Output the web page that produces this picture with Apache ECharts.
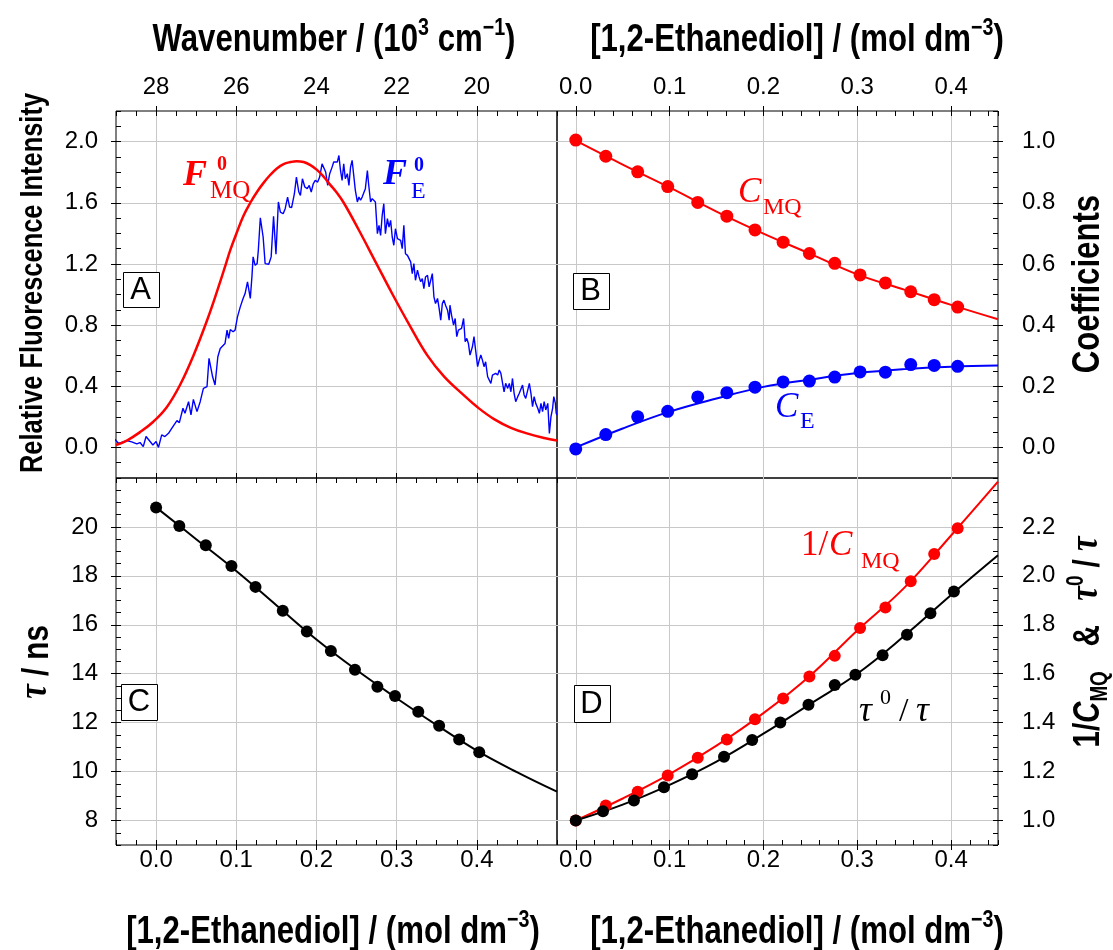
<!DOCTYPE html>
<html><head><meta charset="utf-8">
<script src="https://cdn.jsdelivr.net/npm/echarts@6/dist/echarts.min.js"></script>
<style>html,body{margin:0;padding:0;background:#fff}#c{width:1113px;height:950px}</style>
</head><body><div id="c"></div>
<script>
// ---------- Panel A: spectra vs wavenumber (10^3 cm^-1) ----------
const specWn = [29.03,28.94,28.86,28.73,28.61,28.48,28.40,28.32,28.25,28.17,28.08,28.00,27.94,27.86,27.78,27.69,27.61,27.57,27.48,27.42,27.33,27.28,27.19,27.13,27.07,26.98,26.90,26.82,26.73,26.68,26.59,26.53,26.46,26.40,
26.28,26.23,26.19,26.15,26.08,26.03,25.97,25.90,25.83,25.78,25.72,25.65,25.61,25.58,25.53,25.48,25.45,25.40,25.33,25.28,25.19,25.13,25.07,25.01,24.95,24.90,24.83,24.78,24.72,24.67,24.62,24.55,24.50,24.44,24.40,24.35,24.29,24.23,24.18,24.13,24.08,24.03,23.97,23.92,23.86,23.82,23.77,23.72,23.67,23.61,23.57,
23.53,23.48,23.44,23.40,23.36,23.32,23.28,23.23,23.19,23.15,23.11,23.07,23.03,22.98,22.94,22.90,22.86,22.82,22.78,22.73,22.70,22.65,22.61,22.57,22.53,22.48,22.44,22.40,22.36,22.32,22.28,22.23,22.19,22.15,22.11,22.07,22.03,21.98,21.94,21.90,21.86,21.82,21.78,21.73,21.69,21.65,21.61,21.57,21.53,21.48,21.44,21.40,21.36,21.32,21.28,21.23,21.19,21.15,21.11,21.07,21.03,20.98,20.94,20.90,20.86,20.82,
20.78,20.73,20.69,20.67,20.63,20.58,20.54,20.50,20.46,20.42,20.38,20.33,20.29,20.25,20.21,20.17,20.11,20.07,20.03,19.98,19.94,19.90,19.86,19.82,19.78,19.73,19.69,19.65,19.61,19.57,19.53,19.48,19.44,19.40,19.36,19.32,19.28,19.23,19.19,19.15,19.11,19.07,19.03,18.98,18.94,18.90,18.86,18.82,18.78,18.73,18.69,18.65,18.61,18.57,18.53,18.48,18.44,18.40,18.36,18.32,18.28,18.23,18.19,18.15,18.11,18.08,18.04,18.02,18.00];
const specE = [0.053,0.027,0.032,0.045,0.036,0.023,0.032,0.005,0.071,0.045,0.016,0.038,0.0,0.082,0.071,0.092,0.125,0.114,0.175,0.162,0.256,0.223,0.299,0.212,0.314,0.234,0.299,0.386,0.397,0.582,0.462,0.408,0.593,0.647,
0.68,0.767,0.713,0.771,0.756,0.767,0.854,0.919,0.974,1.006,1.082,0.974,1.115,1.246,1.191,1.202,1.289,1.502,1.376,1.202,1.198,1.246,1.511,1.263,1.605,1.539,1.528,1.561,1.637,1.572,1.568,1.659,1.768,1.67,1.648,1.757,1.703,1.692,1.713,1.67,1.724,1.746,1.735,1.768,1.855,1.855,1.801,1.713,1.79,1.833,1.866,
1.855,1.866,1.909,1.811,1.746,1.855,1.757,1.79,1.713,1.833,1.877,1.779,1.681,1.605,1.637,1.616,1.637,1.627,1.692,1.811,1.724,1.605,1.627,1.637,1.605,1.398,1.452,1.387,1.518,1.594,1.398,1.496,1.441,1.485,1.376,1.322,1.43,1.365,1.376,1.354,1.3,1.452,1.267,1.256,1.267,1.213,1.137,1.202,1.093,1.159,1.115,1.083,1.104,1.039,1.115,1.126,1.05,1.093,1.137,0.985,0.941,0.974,0.909,0.832,0.941,0.963,
0.93,0.897,0.832,0.93,0.865,0.8,0.843,0.724,0.767,0.756,0.778,0.843,0.691,0.713,0.68,0.604,0.658,0.724,0.636,0.528,0.571,0.604,0.571,0.528,0.56,0.462,0.451,0.419,0.473,0.462,0.484,0.473,0.506,0.484,0.488,0.364,0.419,0.386,0.419,0.364,0.451,0.354,0.299,0.332,0.354,0.364,0.408,0.343,0.321,0.375,0.419,0.354,0.267,0.332,0.288,0.256,0.223,0.288,0.234,0.299,0.245,0.288,0.092,0.201,0.256,0.332,0.288,0.223,0.212];
const fmqWn = [29.0,28.73,28.4,28.07,27.73,27.4,27.07,26.73,26.48,26.27,26.15,25.98,25.82,25.65,25.48,25.32,25.15,24.98,24.82,24.65,24.5,24.32,24.15,23.98,23.82,23.65,23.52,23.32,22.94,22.53,22.11,21.69,21.23,20.82,20.32,19.98,19.57,19.15,18.73,18.32,18.0];
const fmqI = [0.016,0.045,0.100,0.168,0.265,0.41,0.60,0.83,1.02,1.19,1.29,1.41,1.515,1.60,1.672,1.730,1.783,1.826,1.853,1.866,1.872,1.866,1.846,1.813,1.770,1.715,1.675,1.6,1.42,1.215,1.005,0.805,0.60,0.465,0.34,0.262,0.185,0.128,0.090,0.062,0.045];

// ---------- Panel B: coefficients vs [1,2-ethanediol] ----------
const concB = [0,0.032,0.066,0.098,0.130,0.161,0.191,0.221,0.249,0.276,0.303,0.330,0.357,0.382,0.407];
const cMQ = [1.005,0.952,0.901,0.853,0.801,0.756,0.711,0.671,0.634,0.602,0.564,0.538,0.509,0.483,0.459];
const cE = [-0.005,0.042,0.100,0.118,0.165,0.179,0.197,0.214,0.217,0.230,0.247,0.246,0.271,0.268,0.265];
const fitConc = [0,0.05,0.1,0.15,0.2,0.25,0.3,0.35,0.4,0.45];
const cMQFit = [1.003,0.925,0.850,0.771,0.699,0.633,0.566,0.516,0.466,0.419];
const cEFit = [0,0.062,0.117,0.160,0.198,0.222,0.243,0.256,0.264,0.268];

// ---------- Panel C: lifetime ----------
const concC = [0,0.029,0.062,0.094,0.124,0.158,0.188,0.218,0.248,0.276,0.298,0.327,0.353,0.378,0.403];
const tau = [20.79,20.04,19.25,18.40,17.55,16.57,15.73,14.93,14.16,13.47,13.09,12.45,11.87,11.31,10.79];
const tauFitConc = [0,0.05,0.1,0.15,0.2,0.25,0.3,0.35,0.4,0.45,0.5];
const tauFit = [20.8,19.5,18.2,16.8,15.4,14.15,13.0,11.9,10.86,9.98,9.18];

// ---------- Panel D: 1/C_MQ and tau0/tau ----------
const invCMQ = [1.0,1.061,1.118,1.184,1.257,1.331,1.414,1.499,1.589,1.673,1.787,1.871,1.978,2.089,2.195];
const tauRatio = [1.0,1.038,1.082,1.136,1.189,1.261,1.329,1.401,1.473,1.554,1.596,1.676,1.759,1.847,1.936];
const invCMQFit = [1.0,1.09,1.19,1.306,1.439,1.593,1.777,1.951,2.165,2.385];
const tauRatioFit = [1.0,1.065,1.146,1.241,1.355,1.477,1.6,1.754,1.922,2.084];

// ---------- tick labels ----------
const wnTicks = [28,26,24,22,20];
const concTicks = [0,0.1,0.2,0.3,0.4];
const fluorTicks = [0,0.4,0.8,1.2,1.6,2.0];
const coefTicks = [0,0.2,0.4,0.6,0.8,1.0];
const tauTicks = [8,10,12,14,16,18,20];
const ratioTicks = [1.0,1.2,1.4,1.6,1.8,2.0,2.2];

const pairs = (xs, ys) => xs.map((x, i) => [x, ys[i]]);
const f1 = v => v.toFixed(1);
const f0 = v => String(Math.round(v));
const SANS = 'Liberation Sans';
const NARROW = '"Liberation Sans Narrow", "Arial Narrow", "Liberation Sans"';
const SERIF = 'Liberation Serif';
const GRID_C = '#c8c8c8';
const SQ = 0.82; // horizontal condensing of bold titles

function major(grid, pos, min, max, ticks, fmt, margin, extra) {
  return Object.assign({
    type: 'value', gridIndex: grid, position: pos, min, max,
    axisLine: {show: false, onZero: false},
    axisTick: {show: true, inside: false, length: 5, customValues: ticks, lineStyle: {color: '#000', width: 1}},
    axisLabel: {show: fmt != null, customValues: ticks, formatter: fmt || (v => ''), color: '#000', fontFamily: NARROW, fontSize: 24, margin},
    splitLine: {show: true, lineStyle: {color: GRID_C, width: 1}},
    minorTick: {show: false}
  }, extra || {});
}
function minor(grid, pos, min, max, step, extra) {
  return Object.assign({
    type: 'value', gridIndex: grid, position: pos, min, max, interval: step,
    axisLine: {show: false, onZero: false},
    axisTick: {show: true, inside: true, length: 5, lineStyle: {color: '#000', width: 1}},
    axisLabel: {show: false}, splitLine: {show: false}
  }, extra || {});
}

const xAxis = [
  major(0, 'top', 18, 29, wnTicks, f0, 12, {inverse: true}),          // 0 A top
  minor(0, 'top', 18, 29, 0.5, {inverse: true}),                        // 1
  major(1, 'top', -0.02, 0.45, concTicks, f1, 12),                      // 2 B top
  minor(1, 'top', -0.02, 0.45, 0.02),                                   // 3
  major(2, 'bottom', -0.05, 0.5, concTicks, f1, 3),                     // 4 C bottom
  minor(2, 'bottom', -0.05, 0.5, 0.025),                                // 5
  major(2, 'top', -0.05, 0.5, concTicks, null, 8, {splitLine: {show: false}}), // 6 C top
  minor(2, 'top', -0.05, 0.5, 0.025),                                   // 7
  major(3, 'bottom', -0.02, 0.45, concTicks, f1, 3),                    // 8 D bottom
  minor(3, 'bottom', -0.02, 0.45, 0.02)                                 // 9
];
const yAxis = [
  major(0, 'left', -0.2, 2.2, fluorTicks, f1, 18),      // 0 A
  minor(0, 'left', -0.2, 2.2, 0.1),                     // 1
  major(1, 'right', -0.1, 1.1, coefTicks, f1, 24),      // 2 B
  minor(1, 'right', -0.1, 1.1, 0.05),                   // 3
  major(2, 'left', 7, 22, tauTicks, f0, 18),            // 4 C
  minor(2, 'left', 7, 22, 0.5),                         // 5
  major(3, 'right', 0.9, 2.4, ratioTicks, f1, 24),      // 6 D
  minor(3, 'right', 0.9, 2.4, 0.05)                     // 7
];

const grid = [
  {left: 116, top: 111, width: 441, height: 367},
  {left: 557, top: 111, width: 441, height: 367},
  {left: 116, top: 478, width: 441, height: 367},
  {left: 557, top: 478, width: 441, height: 367}
].map(g => Object.assign(g, {show: true, borderColor: '#000', borderWidth: 1, backgroundColor: 'transparent', containLabel: false}));

const RED = '#ff0000', BLUE = '#0000ff', BLACK = '#000000';
function fitLine(xi, yi, data, color, w) {
  return {type: 'line', xAxisIndex: xi, yAxisIndex: yi, data, smooth: 0.4, showSymbol: false, symbol: 'none',
    lineStyle: {color, width: w || 2}, silent: true, animation: false, z: 3};
}
function dots(xi, yi, data, color, size) {
  return {type: 'scatter', xAxisIndex: xi, yAxisIndex: yi, data, symbol: 'circle', symbolSize: size || 13,
    itemStyle: {color, opacity: 1}, silent: true, animation: false, z: 4};
}

const series = [
  {type: 'line', xAxisIndex: 0, yAxisIndex: 0, data: pairs(specWn, specE), showSymbol: false, symbol: 'none',
   lineStyle: {color: BLUE, width: 1.4}, animation: false, z: 2},
  fitLine(0, 0, pairs(fmqWn, fmqI), RED, 2.5),
  fitLine(2, 2, pairs(fitConc, cMQFit), RED, 2),
  dots(2, 2, pairs(concB, cMQ), RED),
  fitLine(2, 2, pairs(fitConc, cEFit), BLUE, 2),
  dots(2, 2, pairs(concB, cE), BLUE),
  fitLine(4, 4, pairs(tauFitConc, tauFit), BLACK, 2),
  dots(4, 4, pairs(concC, tau), BLACK, 12),
  fitLine(8, 6, pairs(fitConc, invCMQFit), RED, 2),
  dots(8, 6, pairs(concB, invCMQ), RED, 12),
  fitLine(8, 6, pairs(fitConc, tauRatioFit), BLACK, 2),
  dots(8, 6, pairs(concC, tauRatio), BLACK, 12)
];

function t(x, y, text, st, extra) {
  return Object.assign({type: 'text', x, y, z: 100, silent: true,
    style: Object.assign({text, fill: '#000', align: 'left', verticalAlign: 'middle', textAlign: 'left', textVerticalAlign: 'middle'}, st)}, extra || {});
}
function box(cx, cy, w, h, letter) {
  return [
    {type: 'rect', shape: {x: Math.round(cx - w / 2) + 0.5, y: Math.round(cy - h / 2) + 0.5, width: w, height: h},
     style: {fill: '#fff', stroke: '#000', lineWidth: 1}, z: 99, silent: true},
    t(cx, cy + 1, letter, {fontFamily: SANS, fontSize: 31, align: 'center', textAlign: 'center'})
  ];
}
const serif = (size, col, weight, style) => ({fontFamily: SERIF, fontSize: size, fill: col, fontWeight: weight || 'normal', fontStyle: style || 'normal'});

const titleRich = (size, supSize) => ({
  b: {fontFamily: SANS, fontWeight: 'bold', fontSize: size, lineHeight: size + 6, verticalAlign: 'bottom'},
  s: {fontFamily: SANS, fontWeight: 'bold', fontSize: supSize, lineHeight: size + 6, verticalAlign: 'top'},
  sub: {fontFamily: SANS, fontWeight: 'bold', fontSize: supSize, lineHeight: size + 6, verticalAlign: 'bottom', padding: [0, 0, -5, 0]},
  ti: {fontFamily: SERIF, fontWeight: 'bold', fontStyle: 'italic', fontSize: size + 4, lineHeight: size + 6, verticalAlign: 'bottom'},
  ci: {fontFamily: SANS, fontWeight: 'bold', fontStyle: 'italic', fontSize: size, lineHeight: size + 6, verticalAlign: 'bottom'}
});
function title(x, y, text, size, supSize, rot) {
  const el = t(x, y, text, {rich: titleRich(size, supSize), align: 'center', textAlign: 'center'}, {scaleX: SQ});
  if (rot) el.rotation = Math.PI / 2;
  return el;
}

const graphic = [].concat(
  // axis titles
  title(334, 38, '{b|Wavenumber / (10}{s|3}{b| cm}{s|\u22121}{b|)}', 38, 24),
  title(797, 38, '{b|[1,2-Ethanediol] / (mol dm}{s|\u22123}{b|)}', 38, 24),
  title(333, 930, '{b|[1,2-Ethanediol] / (mol dm}{s|\u22123}{b|)}', 38, 24),
  title(797, 930, '{b|[1,2-Ethanediol] / (mol dm}{s|\u22123}{b|)}', 38, 24),
  title(30, 283, '{b|Relative Fluorescence Intensity}', 31, 20, true),
  title(35, 662, '{ti|\u03c4}{b| / ns}', 36, 22, true),
  title(1086, 284, '{b|Coefficients}', 38, 24, true),
  title(1086, 642, '{b|1/}{ci|C}{sub|MQ}{b|   &   }{ti|\u03c4}{s|0}{b| / }{ti|\u03c4}', 36, 23, true),
  // panel letters
  box(140.5, 289, 36, 35, 'A'),
  box(590.5, 290.5, 36, 36, 'B'),
  box(139, 701.5, 36, 36, 'C'),
  box(591.5, 703, 36, 37, 'D'),
  // in-plot labels panel A
  t(183, 175.5, 'F', serif(36, RED, 'bold', 'italic')),
  t(217, 165, '0', serif(20, RED, 'bold')),
  t(210, 191, 'MQ', serif(25, RED)),
  t(383, 174.5, 'F', serif(36, BLUE, 'bold', 'italic')),
  t(414, 166, '0', serif(20, BLUE, 'bold')),
  t(411, 192, 'E', serif(24, BLUE)),
  // panel B
  t(738, 193, 'C', serif(35, RED, 'normal', 'italic')),
  t(763, 207.5, 'MQ', serif(24, RED)),
  t(775, 407.5, 'C', serif(35, BLUE, 'normal', 'italic')),
  t(800, 422, 'E', serif(24, BLUE)),
  // panel D
  t(801, 545.5, '1/', serif(35, RED)),
  t(829, 545.5, 'C', serif(35, RED, 'normal', 'italic')),
  t(861, 562, 'MQ', serif(24, RED)),
  t(859, 712, '\u03c4', serif(36, BLACK, 'normal', 'italic')),
  t(880, 698, '0', serif(22, BLACK)),
  t(899, 712, '/', serif(34, BLACK)),
  t(916, 712, '\u03c4', serif(36, BLACK, 'normal', 'italic'))
);

const chart = echarts.init(document.getElementById('c'), null, {renderer: 'canvas'});
chart.setOption({animation: false, backgroundColor: '#fff', grid, xAxis, yAxis, series, graphic});
</script>
</body></html>
